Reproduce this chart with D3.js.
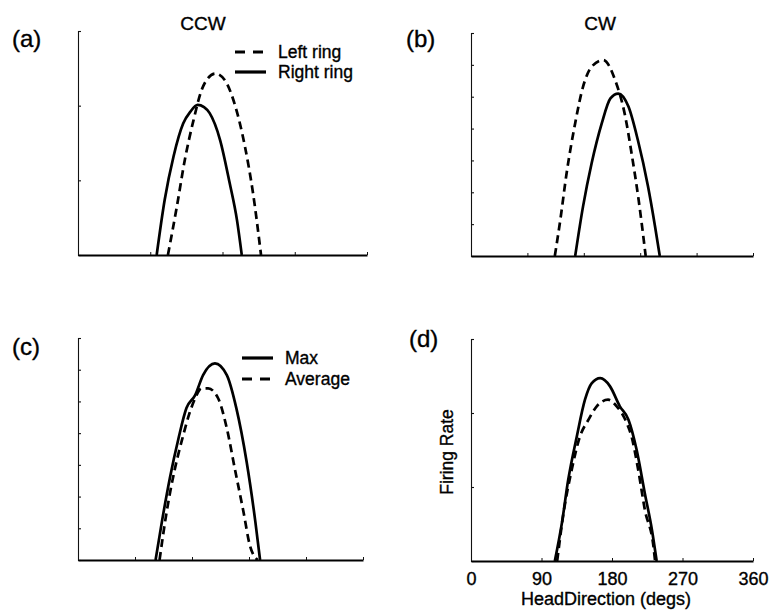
<!DOCTYPE html>
<html>
<head>
<meta charset="utf-8">
<script src="https://cdn.jsdelivr.net/npm/d3@7"></script>
<style>
  body { margin: 0; background: #fff; }
  svg { display: block; font-family: "Liberation Sans", Arial, Helvetica, sans-serif; }
  svg text { fill: #000; stroke: #000; stroke-width: 0.35px; }
</style>
</head>
<body>
<svg id="chart" width="769" height="611"></svg>
<script>
// [head direction (degs), firing rate]

// (a) CCW
const ccwLeftRing = [[112,0],[123,0.64],[133,1.27],[144,1.81],[154,2.21],[162,2.37],[171,2.43],[183,2.34],[196,1.99],[208,1.45],[218,0.83],[228,0]];
const ccwRightRing = [[98,0],[108,0.74],[119,1.32],[131,1.76],[140,1.92],[149,2.01],[157,1.98],[164,1.90],[177,1.54],[189,0.96],[198,0.47],[204,0]];

// (b) CW
const cwLeftRing = [[107,0],[114,1.13],[122,2.59],[133,4.17],[143,5.31],[154,5.94],[169,6.15],[184,5.52],[197,4.37],[205,3.22],[214,1.76],[223,0]];
const cwRightRing = [[133,0],[143,1.55],[154,2.91],[167,4.17],[178,4.95],[188,5.10],[201,4.69],[213,3.64],[226,2.18],[235,0.92],[241,0]];

// (c)
const cMax = [[98,0],[106,1.21],[116,2.58],[127,3.84],[137,4.79],[148,5.20],[158,5.83],[173,6.20],[188,5.83],[200,4.79],[213,3.10],[224,1.21],[230,0]];
const cAverage = [[103,0],[112,1.52],[122.5,2.89],[133,3.94],[141.5,4.68],[148,5.10],[156,5.41],[164.5,5.41],[177,5.10],[188,4.15],[198,2.89],[209,1.52],[217,0.47],[227,0]];

// (d)
const dMax = [[107,0],[116,0.51],[124,1.09],[135,1.68],[145.5,2.18],[154,2.40],[165,2.47],[177.5,2.36],[190,2.09],[201,1.91],[211.5,1.50],[222,0.91],[231,0.42],[237,0]];
const dAverage = [[110,0],[118,0.64],[128.5,1.23],[139,1.68],[150,1.91],[160.5,2.09],[175,2.18],[186,2.09],[199,1.86],[205,1.68],[213.5,1.23],[222,0.69],[233,0.19],[235,0]];

const xTicks90 = [0, 90, 180, 270, 360];
const xTicks72 = [0, 72, 144, 216, 288, 360];
const yTicks3 = [0, 1, 2, 3];
const yTicks7 = [0, 1, 2, 3, 4, 5, 6, 7];

const ringLegend = ['Left ring', 'Right ring'];
const combinedLegend = ['Max', 'Average'];

const panels = [
  { label: '(a)', title: 'CCW', left: 78, right: 367, top: 31, bottom: 255, yMax: 3,
    yTicks: yTicks3, xTicks: xTicks90, solid: ccwRightRing, dashed: ccwLeftRing,
    labelX: 12, labelY: 47, titleX: 203, titleY: 30,
    legend: [{ text: ringLegend[0], dashed: true, y: 52 }, { text: ringLegend[1], dashed: false, y: 72 }],
    legendX: 235 },
  { label: '(b)', title: 'CW', left: 471, right: 753, top: 33, bottom: 256, yMax: 7,
    yTicks: yTicks7, xTicks: xTicks72, solid: cwRightRing, dashed: cwLeftRing,
    labelX: 406, labelY: 47, titleX: 600, titleY: 30, legend: [] },
  { label: '(c)', title: null, left: 78, right: 363, top: 338, bottom: 560, yMax: 7,
    yTicks: yTicks7, xTicks: xTicks72, solid: cMax, dashed: cAverage,
    labelX: 12, labelY: 355,
    legend: [{ text: combinedLegend[0], dashed: false, y: 358 }, { text: combinedLegend[1], dashed: true, y: 379 }],
    legendX: 242 },
  { label: '(d)', title: null, left: 471, right: 753, top: 339, bottom: 561, yMax: 3,
    yTicks: yTicks3, xTicks: xTicks90, solid: dMax, dashed: dAverage,
    labelX: 409, labelY: 347, legend: [], tickLabels: true }
];

const svg = d3.select('#chart');

panels.forEach(p => {
  const x = d3.scaleLinear().domain([0, 360]).range([p.left, p.right]);
  const y = d3.scaleLinear().domain([0, p.yMax]).range([p.bottom, p.top]);
  const g = svg.append('g');

  // y axis, ticks pointing inward
  const yAxis = g.append('g')
    .attr('transform', `translate(${p.left},0)`)
    .call(d3.axisLeft(y).tickValues(p.yTicks).tickSize(-3).tickSizeOuter(-3).tickFormat(''));
  yAxis.selectAll('path, line').attr('stroke', '#111').attr('stroke-width', 1.1);

  // x axis
  const xAxisGen = d3.axisBottom(x).tickValues(p.xTicks).tickSize(-3).tickSizeOuter(0);
  if (p.tickLabels) xAxisGen.tickPadding(11); else xAxisGen.tickFormat('');
  const xAxis = g.append('g')
    .attr('transform', `translate(0,${p.bottom})`)
    .call(xAxisGen);
  xAxis.select('.domain').attr('stroke', '#000').attr('stroke-width', 2.2);
  xAxis.selectAll('.tick line').attr('stroke', '#111').attr('stroke-width', 1);
  xAxis.selectAll('text').attr('fill', '#000').style('font-size', '18px')
    .style('font-family', '"Liberation Sans", Arial, Helvetica, sans-serif');

  const line = d3.line()
    .x(d => x(d[0]))
    .y(d => y(d[1]))
    .curve(d3.curveMonotoneX);

  g.append('path')
    .datum(p.dashed)
    .attr('d', line)
    .attr('fill', 'none')
    .attr('stroke', '#000')
    .attr('stroke-width', 2.7)
    .attr('stroke-dasharray', '8,5');

  g.append('path')
    .datum(p.solid)
    .attr('d', line)
    .attr('fill', 'none')
    .attr('stroke', '#000')
    .attr('stroke-width', 2.7);

  // panel label
  g.append('text')
    .attr('x', p.labelX)
    .attr('y', p.labelY)
    .style('font-size', '24px')
    .text(p.label);

  if (p.title) {
    g.append('text')
      .attr('x', p.titleX)
      .attr('y', p.titleY)
      .attr('text-anchor', 'middle')
      .style('font-size', '19px')
      .text(p.title);
  }

  // legend
  p.legend.forEach(item => {
    g.append('line')
      .attr('x1', p.legendX)
      .attr('x2', p.legendX + 31)
      .attr('y1', item.y)
      .attr('y2', item.y)
      .attr('stroke', '#000')
      .attr('stroke-width', 3.2)
      .attr('stroke-dasharray', item.dashed ? '10,8' : null);
    g.append('text')
      .attr('x', p.legendX + 43)
      .attr('y', item.y + 6)
      .style('font-size', '17.5px')
      .text(item.text);
  });

  if (p.tickLabels) {
    g.append('text')
      .attr('x', (p.left + p.right) / 2 - 6)
      .attr('y', 605)
      .attr('text-anchor', 'middle')
      .style('font-size', '18px')
      .text('HeadDirection (degs)');

    g.append('text')
      .attr('transform', `translate(453,${(p.top + p.bottom) / 2 + 2}) rotate(-90)`)
      .attr('text-anchor', 'middle')
      .style('font-size', '17.5px')
      .text('Firing Rate');
  }
});
</script>
</body>
</html>
